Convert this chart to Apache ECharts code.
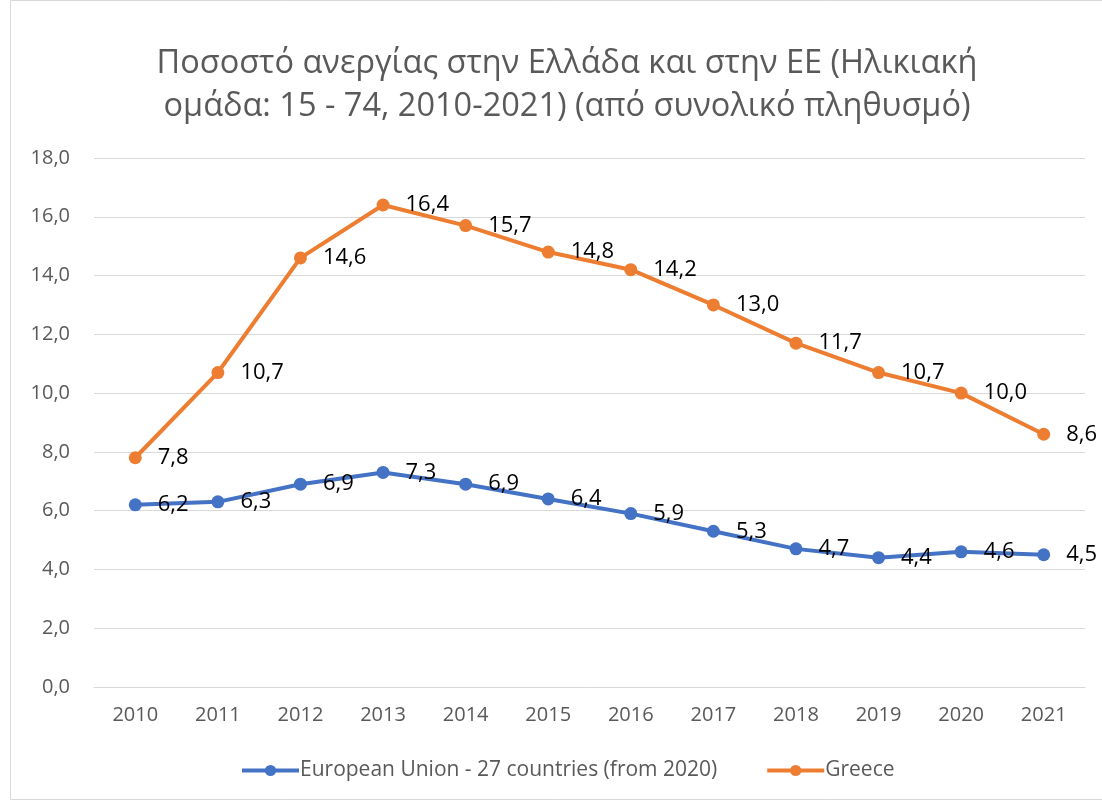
<!DOCTYPE html>
<html>
<head>
<meta charset="utf-8">
<script src="https://cdn.jsdelivr.net/npm/echarts@6/dist/echarts.min.js"></script>
<style>
  html, body { margin: 0; padding: 0; background: #fff; }
  #chart { width: 1102px; height: 801px; }
</style>
</head>
<body>
<div id="chart"></div>
<script>
var years = ['2010', '2011', '2012', '2013', '2014', '2015', '2016', '2017', '2018', '2019', '2020', '2021'];
var euValues = [6.2, 6.3, 6.9, 7.3, 6.9, 6.4, 5.9, 5.3, 4.7, 4.4, 4.6, 4.5];
var greeceValues = [7.8, 10.7, 14.6, 16.4, 15.7, 14.8, 14.2, 13.0, 11.7, 10.7, 10.0, 8.6];
var seriesNames = ['European Union - 27 countries (from 2020)', 'Greece'];
var titleText = 'Ποσοστό ανεργίας στην Ελλάδα και στην ΕΕ (Ηλικιακή\nομάδα: 15 - 74, 2010-2021) (από συνολικό πληθυσμό)';

var fontFamily = '"Open Sans", sans-serif';

function comma(v) {
  return Number(v).toFixed(1).replace('.', ',');
}

function makeSeries(name, data, color) {
  return {
    name: name,
    type: 'line',
    data: data,
    symbol: 'circle',
    symbolSize: 13,
    itemStyle: { color: color },
    lineStyle: { color: color, width: 4 },
    label: {
      show: true,
      position: 'right',
      distance: 16,
      color: '#000',
      fontSize: 22,
      fontFamily: fontFamily,
      formatter: function (p) { return comma(p.value); }
    }
  };
}

var option = {
  animation: false,
  backgroundColor: '#fff',
  textStyle: { fontFamily: fontFamily },
  graphic: [{
    type: 'rect',
    shape: { x: 10.5, y: 0.5, width: 1100, height: 799 },
    style: { fill: 'none', stroke: '#d9d9d9', lineWidth: 1 },
    silent: true
  }],
  title: {
    text: titleText,
    left: 562,
    top: 37,
    textAlign: 'center',
    textStyle: {
      fontFamily: fontFamily,
      fontSize: 32.5,
      fontWeight: 'normal',
      color: '#595959',
      lineHeight: 43
    }
  },
  legend: {
    bottom: 20,
    left: 240,
    padding: 0,
    itemWidth: 57,
    itemHeight: 14,
    itemGap: 48,
    lineStyle: { width: 4 },
    textStyle: { fontSize: 21, color: '#595959', fontFamily: fontFamily, padding: [0, 0, 0, -4] },
    data: seriesNames
  },
  grid: {
    left: 94,
    right: 17,
    top: 158,
    bottom: 114
  },
  xAxis: {
    type: 'category',
    data: years,
    boundaryGap: true,
    axisLine: { lineStyle: { color: '#d9d9d9', width: 1 } },
    axisTick: { show: false },
    axisLabel: { color: '#595959', fontSize: 20, margin: 18 }
  },
  yAxis: {
    type: 'value',
    min: 0,
    max: 18,
    interval: 2,
    axisLine: { show: false },
    axisTick: { show: false },
    splitLine: { lineStyle: { color: '#d9d9d9', width: 1 } },
    axisLabel: {
      color: '#595959',
      fontSize: 20,
      margin: 24,
      formatter: function (v) { return comma(v); }
    }
  },
  series: [
    makeSeries(seriesNames[0], euValues, '#4472c4'),
    makeSeries(seriesNames[1], greeceValues, '#ed7d31')
  ]
};

var chart = echarts.init(document.getElementById('chart'));
chart.setOption(option);
</script>
</body>
</html>
